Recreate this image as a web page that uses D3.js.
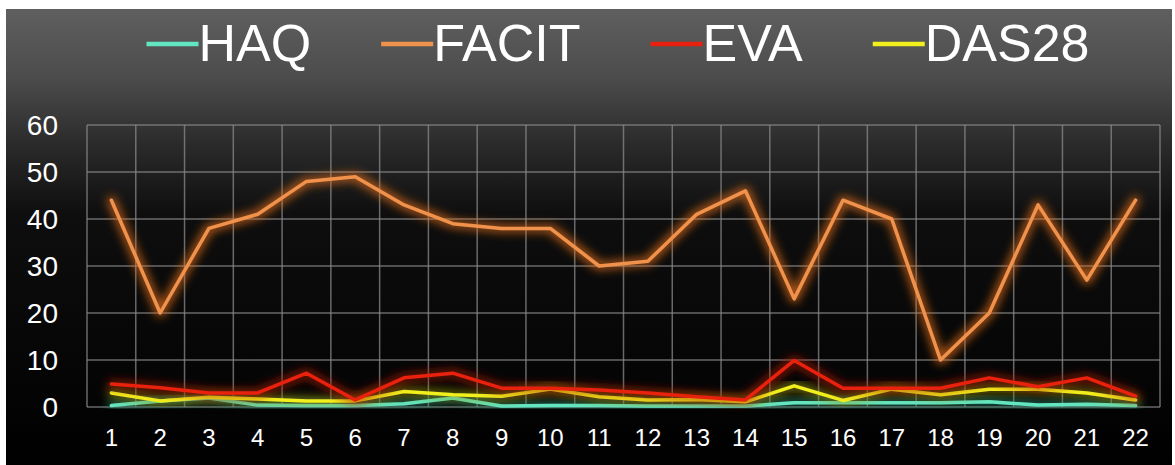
<!DOCTYPE html>
<html>
<head>
<meta charset="utf-8">
<script src="https://cdn.jsdelivr.net/npm/d3@7/dist/d3.min.js"></script>
<style>
html,body{margin:0;padding:0;background:#fff;}
svg{display:block;}
text{font-family:"Liberation Sans",Arial,sans-serif;}
</style>
</head>
<body>
<svg id="chart" width="1175" height="465"></svg>
<script>
const categories = ["1","2","3","4","5","6","7","8","9","10","11","12","13","14","15","16","17","18","19","20","21","22"];
const seriesNames = ["HAQ","FACIT","EVA","DAS28"];
const haq   = [0.3,1.3,1.9,0.4,0.3,0.3,0.7,1.9,0.2,0.3,0.3,0.2,0.2,0.2,0.9,0.9,0.9,0.9,1.1,0.4,0.6,0.3];
const facit = [44,20,38,41,48,49,43,39,38,38,30,31,41,46,23,44,40,10,20,43,27,44];
const eva   = [4.9,4.1,3.0,3.0,7.2,1.5,6.2,7.2,4.0,4.0,3.6,3.0,2.2,1.5,9.9,4.0,4.0,4.0,6.2,4.3,6.2,2.3];
const das28 = [3.0,1.3,2.1,1.7,1.3,1.3,3.3,2.6,2.3,3.8,2.2,1.5,1.6,1.1,4.5,1.4,3.8,2.6,3.8,3.8,3.0,1.5];
const yTicks = [0,10,20,30,40,50,60];
const colors = ["#62e6c2","#f0924c","#e8200f","#f2f01c"];
const glowColors = ["#2a8a70","#e8701a","#a81808","#9a9410"];

const seriesData = [haq, facit, eva, das28];

(function(){
const svg = d3.select("#chart");
const W = 1175, H = 465;
const pL = 87, pR = 1160, pT = 125, pB = 407;

const defs = svg.append("defs");
const bg = defs.append("linearGradient").attr("id","bg").attr("x1",0).attr("y1",0).attr("x2",0).attr("y2",1);
bg.append("stop").attr("offset","0%").attr("stop-color","#5f5f5f");
bg.append("stop").attr("offset","15%").attr("stop-color","#4c4c4c");
bg.append("stop").attr("offset","30%").attr("stop-color","#2a2a2a");
bg.append("stop").attr("offset","45%").attr("stop-color","#0e0e0e");
bg.append("stop").attr("offset","100%").attr("stop-color","#000");

seriesNames.forEach((n,i)=>{
  const f = defs.append("filter").attr("id","glow"+i)
    .attr("x","-10%").attr("y","-30%").attr("width","120%").attr("height","160%");
  f.append("feMorphology").attr("in","SourceGraphic").attr("operator","dilate").attr("radius",2).attr("result","d");
  f.append("feFlood").attr("flood-color",glowColors[i]).attr("flood-opacity",0.75).attr("result","c");
  f.append("feComposite").attr("in","c").attr("in2","d").attr("operator","in").attr("result","cd");
  f.append("feGaussianBlur").attr("in","cd").attr("stdDeviation",5).attr("result","b");
  const m = f.append("feMerge");
  m.append("feMergeNode").attr("in","b");
  m.append("feMergeNode").attr("in","SourceGraphic");
});

svg.append("rect").attr("x",6).attr("y",9).attr("width",1166).attr("height",H-9).attr("fill","url(#bg)");

const x = d3.scaleBand().domain(categories).range([pL,pR]).padding(0);
const y = d3.scaleLinear().domain([0,60]).range([pB,pT]);

const grid = svg.append("g");
grid.selectAll("line.h").data(yTicks).join("line").attr("class","h")
  .attr("x1",pL).attr("x2",pR).attr("y1",d=>y(d)).attr("y2",d=>y(d))
  .attr("stroke","#8a8a8a").attr("stroke-opacity",0.75).attr("stroke-width",1.5);
const edges = categories.map(c=>x(c)).concat([x(categories[categories.length-1])+x.bandwidth()]);
grid.selectAll("line.v").data(edges).join("line").attr("class","v")
  .attr("x1",d=>d).attr("x2",d=>d).attr("y1",pT).attr("y2",pB)
  .attr("stroke","#8a8a8a").attr("stroke-opacity",0.75).attr("stroke-width",1.5);

const yAxis = d3.axisLeft(y).tickValues(yTicks).tickSize(0).tickPadding(0);
const gy = svg.append("g").attr("transform","translate(58,0)").call(yAxis);
gy.select(".domain").remove();
gy.selectAll("text").attr("fill","#fff").attr("font-size",28).attr("dy","0.35em")
  .attr("font-family","Liberation Sans, Arial, sans-serif");

const xAxis = d3.axisBottom(x).tickSize(0).tickPadding(0);
const gx = svg.append("g").attr("transform","translate(0,429)").call(xAxis);
gx.select(".domain").remove();
gx.selectAll("text").attr("fill","#fff").attr("font-size",24).attr("dy","0.71em")
  .attr("font-family","Liberation Sans, Arial, sans-serif");

const line = d3.line().x((d,i)=>x(categories[i])+x.bandwidth()/2).y(d=>y(d));
const order = [1,0,3,2];
order.forEach(i=>{
  svg.append("path").datum(seriesData[i])
    .attr("d",line).attr("fill","none")
    .attr("stroke",colors[i]).attr("stroke-width",3.5)
    .attr("stroke-linejoin","round").attr("stroke-linecap","round")
    .attr("filter","url(#glow"+i+")");
});

const leg = svg.append("g");
let cx = 0;
seriesNames.forEach((n,i)=>{
  const g = leg.append("g");
  g.append("line").attr("x1",0).attr("x2",52).attr("y1",0).attr("y2",0)
    .attr("stroke",colors[i]).attr("stroke-width",4.5);
  const t = g.append("text").attr("x",52).attr("y",17).attr("fill","#fff")
    .attr("font-size",52).text(n);
  const w = 52 + t.node().getComputedTextLength();
  g.attr("transform","translate("+cx+",44)");
  cx += w + 70;
});
const total = cx - 70;
leg.attr("transform","translate("+(618 - total/2)+",0)");
})();
</script>
</body>
</html>
